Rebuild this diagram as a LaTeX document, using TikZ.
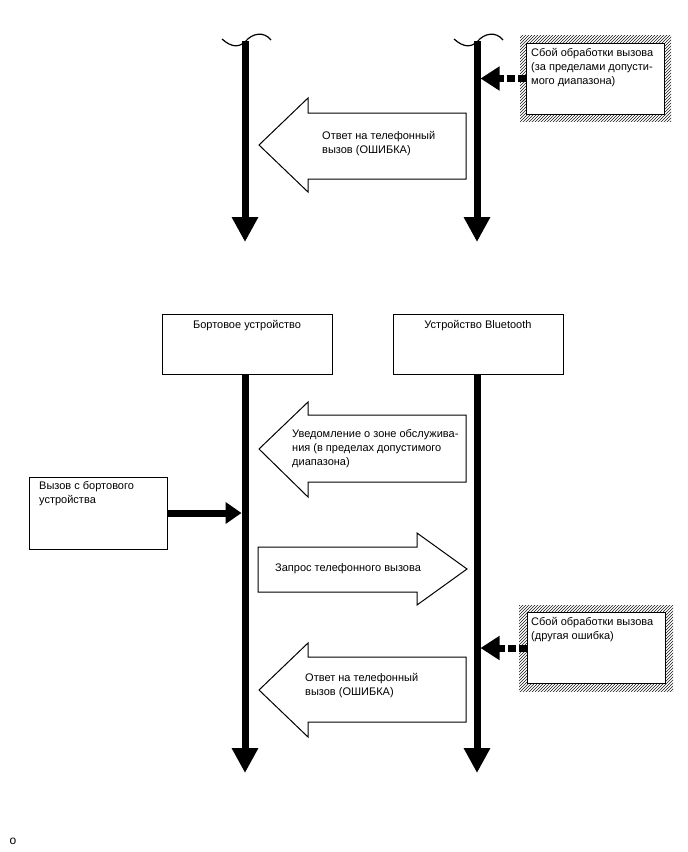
\documentclass[tikz,border=0pt]{standalone}
\usepackage{fontspec}
\setmainfont{Liberation Sans}
\usepackage{tikz}
\usetikzlibrary{arrows.meta,positioning,patterns}

\begin{document}
\begin{tikzpicture}[x=1pt, y=-1pt,
    lbl/.style={font=\fontsize{11}{14}\selectfont, align=left, inner sep=0pt},
    devbox/.style={rectangle, draw, line width=1pt, fill=white, minimum width=170pt, minimum height=60pt},
    errbox/.style={rectangle, draw, line width=1pt, fill=white, minimum width=138pt, minimum height=71pt},
    hatch/.style={pattern=north east lines, pattern color=black!90},
    lifeline/.style={line width=7pt, -{Triangle[length=25pt,width=25pt]}},
    blockarrow/.style={draw, line width=1pt, fill=white, line join=miter},
    failarrow/.style={line width=7pt, dash pattern=on 8pt off 3pt, -{Triangle[length=19pt,width=23pt]}},
    callarrow/.style={line width=7pt, -{Triangle[length=16pt,width=21pt]}}
]
    \useasboundingbox (0,0) rectangle (688,852);

    % upper part
    \coordinate (ltop) at (245,41);
    \coordinate (lbot) at (245,242);
    \coordinate (rtop) at (477,41);
    \coordinate (rbot) at (477,242);
    \draw[lifeline] (ltop) -- (lbot);
    \draw[lifeline] (rtop) -- (rbot);
    \draw[line width=1.2pt] (222,39) .. controls (232,48) and (239,47) .. (245,42) .. controls (252,33) and (264,31) .. (271,40);
    \draw[line width=1.2pt] (454,39) .. controls (464,48) and (471,47) .. (477,42) .. controls (484,33) and (496,31) .. (503,40);

    \fill[hatch] (520,35) rectangle (671,121);
    \node[errbox] (err1) at (595.5,78.5) {};
    \node[lbl, anchor=north west] (err1txt) at (531,48) {Сбой обработки вызова\\(за пределами допусти-\\мого диапазона)};
    \draw[failarrow] (err1.west) -- ([xshift=3.5pt]err1.west -| rtop);

    \draw[blockarrow] (466,113) -- (308,113) -- (308,98) -- (259,145) -- (308,192) -- (308,179) -- (466,179) -- cycle;
    \node[lbl, anchor=west] (reply1) at (322,144) {Ответ на телефонный\\вызов (ОШИБКА)};

    % lower part
    \node[devbox] (onboard) at (247,344) {};
    \node[lbl, below=7pt of onboard.north] (onboardtxt) {Бортовое устройство};
    \node[devbox] (bt) at (478,344) {};
    \node[lbl, below=7pt of bt.north] (bttxt) {Устройство Bluetooth};

    \coordinate (lbot2) at (245,773);
    \coordinate (rbot2) at (477,773);
    \draw[lifeline] (onboard.south -| lbot2) -- (lbot2);
    \draw[lifeline] (bt.south -| rbot2) -- (rbot2);

    \draw[blockarrow] (466,415) -- (308,415) -- (308,402) -- (259,449) -- (308,497) -- (308,482) -- (466,482) -- cycle;
    \node[lbl, anchor=west] (notify) at (292,449) {Уведомление о зоне обслужива-\\ния (в пределах допустимого\\диапазона)};

    \node[rectangle, draw, line width=1pt, minimum width=138pt, minimum height=72pt] (callbox) at (98,513) {};
    \node[lbl, anchor=north west] (calltxt) at (39,481) {Вызов с бортового\\устройства};
    \draw[callarrow] (callbox.east) -- ([xshift=-3.5pt]callbox.east -| lbot2);

    \draw[blockarrow] (258,547) -- (417,547) -- (417,533) -- (467,569) -- (417,605) -- (417,592) -- (258,592) -- cycle;
    \node[lbl, anchor=west] (request) at (275,569) {Запрос телефонного вызова};

    \fill[hatch] (519,605) rectangle (673,691);
    \node[errbox] (err2) at (596,648) {};
    \node[lbl, anchor=north west] (err2txt) at (531,617) {Сбой обработки вызова\\(другая ошибка)};
    \draw[failarrow] (err2.west) -- ([xshift=3.5pt]err2.west -| rbot2);

    \draw[blockarrow] (466,657) -- (308,657) -- (308,643) -- (259,690) -- (308,737) -- (308,722) -- (466,722) -- cycle;
    \node[lbl, anchor=west] (reply2) at (305,686) {Ответ на телефонный\\вызов (ОШИБКА)};

    \node[lbl, font=\fontsize{12}{14}\selectfont] (mark) at (13,841) {o};
\end{tikzpicture}
\end{document}
